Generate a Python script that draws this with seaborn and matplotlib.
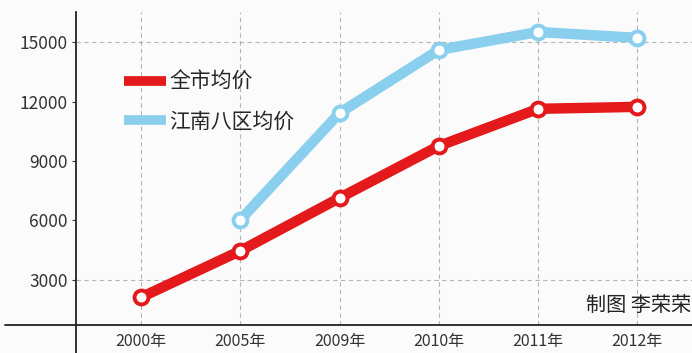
import pandas as pd
import seaborn as sns
import matplotlib.pyplot as plt
from matplotlib.lines import Line2D

# Data
years = ['2000年', '2005年', '2009年', '2010年', '2011年', '2012年']
city_avg = [2100, 4450, 7130, 9760, 11640, 11740]
jiangnan_years = ['2005年', '2009年', '2010年', '2011年', '2012年']
jiangnan_avg = [6020, 11430, 14620, 15530, 15230]
series_names = ['全市均价', '江南八区均价']
y_ticks = [3000, 6000, 9000, 12000, 15000]

red = '#e3191c'
blue = '#8acfee'

df = pd.concat([
    pd.DataFrame({'year': years, 'price': city_avg, 'series': series_names[0]}),
    pd.DataFrame({'year': jiangnan_years, 'price': jiangnan_avg, 'series': series_names[1]}),
])
df['pos'] = df['year'].map({y: i for i, y in enumerate(years)})

sns.set_style('white')
plt.rcParams['font.family'] = ['Noto Sans CJK SC', 'DejaVu Sans']

fig = plt.figure(figsize=(6.92, 3.53), dpi=100, facecolor='#fbfbfb')
ax = fig.add_axes([76 / 692, 28 / 353, 616 / 692, 313 / 353])
ax.set_facecolor('#fbfbfb')

# dashed grid
for i in range(len(years)):
    ax.axvline(i, color='#b5b5b5', lw=0.8, ls=(0, (4, 3)), zorder=0)
for v in [3000, 15000]:
    ax.axhline(v, color='#b5b5b5', lw=0.8, ls=(0, (4, 3)), zorder=0)

sns.lineplot(data=df, x='pos', y='price', hue='series', palette=[red, blue],
             linewidth=7.5, marker='o', markersize=10, markerfacecolor='white',
             markeredgewidth=2.8, legend=False, ax=ax, zorder=3)
# match marker edges to line color
for line, c in zip(ax.get_lines()[-2:], [red, blue]):
    line.set_markeredgecolor(c)

ax.set_xlim(-0.655, 5.55)
ax.set_ylim(700, 16540)
ax.set_xticks(range(len(years)))
ax.set_xticklabels(years, fontsize=11.5, color='#333333')
ax.set_yticks(y_ticks)
ax.set_yticklabels([str(t) for t in y_ticks], fontsize=12.5, color='#333333')
ax.tick_params(axis='y', length=3, width=0.8, color='#333333', pad=3, left=True)
ax.tick_params(axis='x', length=0, pad=6)
ax.set_xlabel('')
ax.set_ylabel('')
for s in ['top', 'right']:
    ax.spines[s].set_visible(False)
for s in ['left', 'bottom']:
    ax.spines[s].set_color('#222222')
    ax.spines[s].set_linewidth(1.3)

# axis line extensions past the origin
fig.add_artist(Line2D([76 / 692, 76 / 692], [0, 28 / 353], color='#222222', lw=1.3))
fig.add_artist(Line2D([5 / 692, 76 / 692], [28 / 353, 28 / 353], color='#222222', lw=1.3))

handles = [Line2D([], [], color=red, lw=7, solid_capstyle='butt'),
           Line2D([], [], color=blue, lw=7, solid_capstyle='butt')]
ax.legend(handles, series_names, loc='upper left', bbox_to_anchor=(0.048, 0.872),
          frameon=False, fontsize=15, handlelength=2.0, handletextpad=0.15,
          labelspacing=0.85)

fig.text(0.999, 0.135, '制图 李荣荣', ha='right', va='center', fontsize=14.5, color='#222222')

plt.savefig('out.png', dpi=100, facecolor=fig.get_facecolor())
